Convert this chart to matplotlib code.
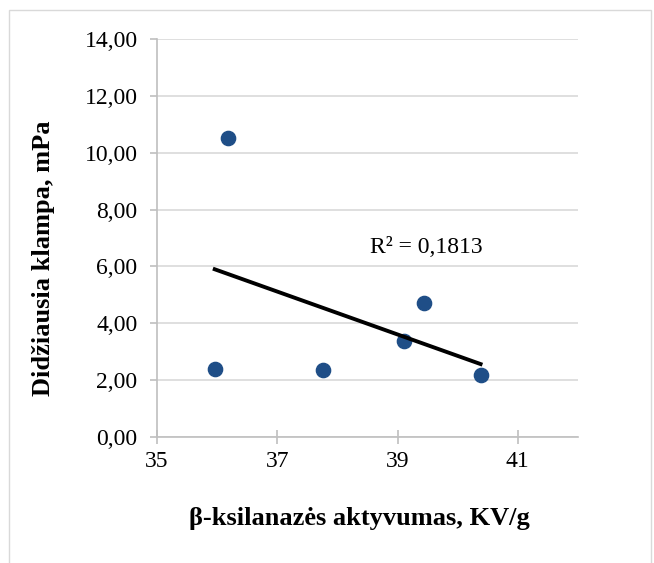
import matplotlib.pyplot as plt
from matplotlib.patches import Rectangle
from matplotlib.ticker import FuncFormatter
import numpy as np

plt.rcParams['font.family'] = ['Liberation Serif', 'DejaVu Serif']

# data
aktyvumas = [35.96, 36.18, 37.76, 39.11, 39.44, 40.38]
klampa = [2.39, 10.51, 2.36, 3.39, 4.70, 2.19]
x_ticks = [35, 37, 39, 41]
y_ticks = [0, 2, 4, 6, 8, 10, 12, 14]
r2_label = "R² = 0,1813"

W, H = 654, 563
fig = plt.figure(figsize=(W / 100, H / 100), dpi=100)
ax = fig.add_axes([157 / W, 1 - 437 / H, 421 / W, 398 / H])

# outer chart frame like excel
fig.patches.append(Rectangle((9 / W, -0.05), 642 / W, 1.05 - 10 / H,
                             transform=fig.transFigure, fill=False,
                             edgecolor='#d9d9d9', linewidth=1))

ax.scatter(aktyvumas, klampa, s=105, color='#1f4e87', zorder=3)

# linear trendline
k, b = np.polyfit(aktyvumas, klampa, 1)
xs = np.array([min(aktyvumas), max(aktyvumas)])
ax.plot(xs, k * xs + b, color='black', linewidth=2.8, zorder=4)
ax.text(39.47, 6.68, r2_label, fontsize=17, ha='center', va='center')

ax.set_xlim(35, 42)
ax.set_ylim(0, 14)
ax.set_xticks(x_ticks)
ax.set_yticks(y_ticks)
ax.yaxis.set_major_formatter(FuncFormatter(lambda v, p: f"{v:.2f}".replace('.', ',')))
ax.grid(axis='y', color='#d9d9d9', linewidth=1.2)
ax.set_axisbelow(True)

for s in ['top', 'right']:
    ax.spines[s].set_visible(False)
for s in ['left', 'bottom']:
    ax.spines[s].set_color('#bfbfbf')
    ax.spines[s].set_linewidth(1.2)

ax.tick_params(axis='x', direction='inout', length=10, width=1.2, color='#bfbfbf',
               labelsize=17, pad=5)
ax.tick_params(axis='y', direction='out', length=5, width=1.2, color='#bfbfbf',
               labelsize=17, pad=9)

# axis titles placed in figure coords
fig.text(359 / W, 1 - 518 / H, "β-ksilanazės aktyvumas, KV/g", fontsize=19,
         fontweight='bold', ha='center', va='center')
fig.text(44 / W, 1 - 258 / H, "Didžiausia klampa, mPa", fontsize=19,
         fontweight='bold', ha='center', va='center', rotation=90)

plt.savefig("out.png")
plt.close()
